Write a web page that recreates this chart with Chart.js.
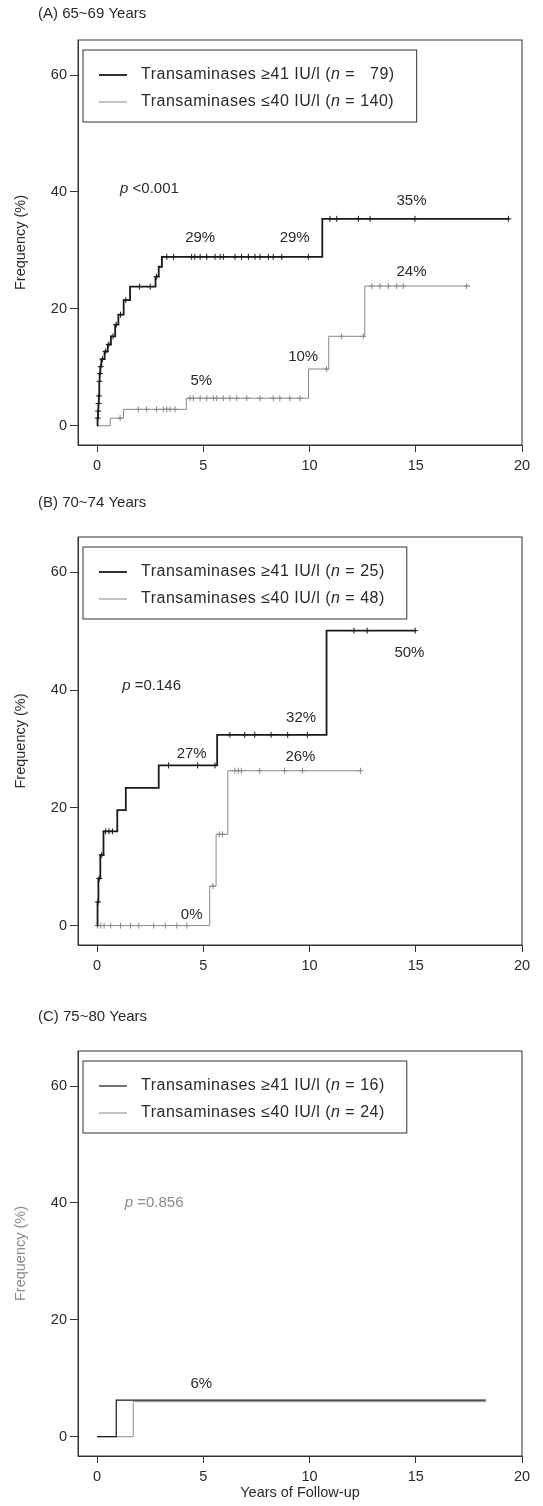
<!DOCTYPE html>
<html>
<head>
<meta charset="utf-8">
<script src="https://cdn.jsdelivr.net/npm/chart.js@4.4.0/dist/chart.umd.min.js"></script>
<style>
  body { margin: 0; background: #fff; }
  .panel { position: absolute; left: 0; width: 543px; }
</style>
</head>
<body>
<div class="panel" style="top:0;height:485px"><canvas id="chartA"></canvas></div>
<div class="panel" style="top:485px;height:512px"><canvas id="chartB"></canvas></div>
<div class="panel" style="top:997px;height:509px"><canvas id="chartC"></canvas></div>
<script>
const xTicks = [0, 5, 10, 15, 20];
const yTicks = [0, 20, 40, 60];

// (A) 65~69 years
const aHighTimes = [0, 0.02, 0.04, 0.06, 0.08, 0.1, 0.12, 0.15, 0.2, 0.35, 0.5, 0.65, 0.85, 1.0, 1.25, 1.55, 2.75, 2.9, 3.05, 10.6, 19.4];
const aHighValues = [0, 1.3, 2.5, 3.8, 5.1, 7.6, 8.9, 10.1, 11.4, 12.7, 13.9, 15.3, 17.3, 19.0, 21.5, 23.8, 25.5, 27.2, 28.9, 35.4, 35.4];
const aHighCensors = [0.03, 0.05, 0.07, 0.09, 0.11, 0.13, 0.17, 0.25, 0.4, 0.55, 0.75, 0.9, 1.1, 1.35, 2.0, 2.5, 2.8, 3.28, 3.6, 4.45, 4.6, 4.85, 5.16, 5.55, 5.79, 5.94, 6.49, 6.8, 7.12, 7.43, 7.67, 8.06, 8.29, 8.69, 9.94, 10.96, 11.28, 12.3, 12.85, 14.96, 19.36];
const aLowTimes = [0, 0.62, 1.24, 4.2, 9.95, 10.9, 12.6, 17.55];
const aLowValues = [0, 1.3, 2.8, 4.7, 9.7, 15.3, 23.9, 23.9];
const aLowCensors = [1.08, 1.94, 2.33, 2.8, 3.12, 3.28, 3.43, 3.67, 4.37, 4.53, 4.85, 5.16, 5.47, 5.63, 5.94, 6.25, 6.57, 7.04, 7.67, 8.29, 8.6, 9.07, 9.55, 10.8, 11.51, 12.53, 12.93, 13.32, 13.71, 14.1, 14.41, 17.39];
const aNotes = ["29%", "29%", "35%", "24%", "10%", "5%"];
const aNoteX = [4.85, 9.3, 14.8, 14.8, 9.7, 4.9];
const aNoteY = [32.1, 32.1, 38.5, 26.4, 11.8, 7.6];

// (B) 70~74 years
const bHighTimes = [0, 0.02, 0.06, 0.15, 0.3, 0.95, 1.35, 2.9, 5.65, 10.8, 15.0];
const bHighValues = [0, 4, 8, 12, 16, 19.6, 23.4, 27.2, 32.4, 50.1, 50.1];
const bHighCensors = [0.04, 0.1, 0.22, 0.4, 0.56, 0.72, 3.36, 4.73, 5.55, 6.25, 6.95, 7.42, 8.19, 8.97, 9.9, 12.09, 12.71, 14.97];
const bLowTimes = [0, 5.3, 5.6, 6.15, 12.4];
const bLowValues = [0, 6.7, 15.5, 26.3, 26.3];
const bLowCensors = [0.01, 0.17, 0.33, 0.64, 1.1, 1.57, 1.96, 2.66, 3.21, 3.75, 4.22, 5.45, 5.75, 5.9, 6.48, 6.64, 6.79, 7.65, 8.82, 9.67, 12.4];
const bNotes = ["27%", "32%", "26%", "0%", "50%"];
const bNoteX = [4.45, 9.6, 9.57, 4.45, 14.7];
const bNoteY = [29.2, 35.2, 28.7, 1.8, 46.4];

// (C) 75~80 years
const cHighTimes = [0, 0.9, 18.3];
const cHighValues = [0, 6.25, 6.25];
const cLowTimes = [0, 1.7, 18.3];
const cLowValues = [0, 6.0, 6.0];
const cNotes = ["6%"];
const cNoteX = [4.9];
const cNoteY = [9.0];

const fontFamily = "'Liberation Sans', Arial, sans-serif";

function stepPoints(times, values) {
  return times.map((t, i) => ({ x: t, y: values[i] }));
}

function censorPoints(censors, times, values) {
  return censors.map((t) => {
    let v = values[0];
    times.forEach((time, i) => {
      if (time <= t) v = values[i];
    });
    return { x: t, y: v };
  });
}

function frameAndText(panel) {
  return {
    id: "frameAndText",
    beforeDatasetsDraw(chart) {
      const { ctx, chartArea } = chart;
      ctx.save();
      ctx.strokeStyle = "#333";
      ctx.lineWidth = 1;
      ctx.strokeRect(chartArea.left, chartArea.top, chartArea.right - chartArea.left, chartArea.bottom - chartArea.top);
      ctx.restore();
    },
    afterDraw(chart) {
      const { ctx, chartArea, scales } = chart;
      ctx.save();
      ctx.fillStyle = "#2a2a2a";
      ctx.font = "15px " + fontFamily;
      ctx.textBaseline = "middle";
      ctx.textAlign = "left";
      ctx.fillText(panel.title, 38, chartArea.top - panel.titleGap);

      // percentage notes
      ctx.textAlign = "center";
      panel.notes.forEach((text, i) => {
        ctx.fillText(text, scales.x.getPixelForValue(panel.noteX[i]), scales.y.getPixelForValue(panel.noteY[i]));
      });

      // p value
      ctx.fillStyle = panel.pColor;
      ctx.textAlign = "left";
      let px = scales.x.getPixelForValue(panel.pX);
      const py = scales.y.getPixelForValue(panel.pY);
      ctx.font = "italic 15px " + fontFamily;
      ctx.fillText("p", px, py);
      px += ctx.measureText("p ").width;
      ctx.font = "15px " + fontFamily;
      ctx.fillText(panel.pText, px, py);

      // legend box
      const left = chartArea.left + 5;
      const top = chartArea.top + 10;
      const rows = [
        { color: "#1a1a1a", width: panel.highWidth, pre: "Transaminases \u226541 IU/l (", post: panel.nHigh },
        { color: "#8a8a8a", width: 1, pre: "Transaminases \u226440 IU/l (", post: panel.nLow },
      ];
      ctx.letterSpacing = "0.5px";
      let maxW = 0;
      rows.forEach((row, i) => {
        const y = top + 25 + i * 27;
        ctx.strokeStyle = row.color;
        ctx.lineWidth = row.width;
        ctx.beginPath();
        ctx.moveTo(left + 16, y);
        ctx.lineTo(left + 44, y);
        ctx.stroke();
        let x = left + 58;
        ctx.fillStyle = "#2a2a2a";
        ctx.font = "16px " + fontFamily;
        ctx.fillText(row.pre, x, y);
        x += ctx.measureText(row.pre).width;
        ctx.font = "italic 16px " + fontFamily;
        ctx.fillText("n", x, y);
        x += ctx.measureText("n").width;
        ctx.font = "16px " + fontFamily;
        ctx.fillText(row.post, x, y);
        x += ctx.measureText(row.post).width;
        maxW = Math.max(maxW, x - left);
      });
      ctx.strokeStyle = "#333";
      ctx.lineWidth = 1;
      ctx.strokeRect(left, top, maxW + 22, 72);
      ctx.restore();
    },
  };
}

function makePanel(canvasId, panel) {
  const datasets = [
    {
      data: stepPoints(panel.highTimes, panel.highValues),
      borderColor: "#1a1a1a",
      borderWidth: panel.highWidth,
      stepped: true,
      pointRadius: 0,
    },
    {
      data: stepPoints(panel.lowTimes, panel.lowValues),
      borderColor: "#8a8a8a",
      borderWidth: 1,
      stepped: true,
      pointRadius: 0,
    },
  ];
  if (panel.highCensors) {
    datasets.push({
      data: censorPoints(panel.highCensors, panel.highTimes, panel.highValues),
      showLine: false,
      pointStyle: "cross",
      pointRadius: 3,
      borderColor: "#1a1a1a",
      borderWidth: 1,
    });
    datasets.push({
      data: censorPoints(panel.lowCensors, panel.lowTimes, panel.lowValues),
      showLine: false,
      pointStyle: "cross",
      pointRadius: 3,
      borderColor: "#8a8a8a",
      borderWidth: 1,
    });
  }

  new Chart(document.getElementById(canvasId), {
    type: "line",
    data: { datasets: datasets },
    options: {
      responsive: true,
      maintainAspectRatio: false,
      animation: false,
      layout: { padding: { top: panel.padTop, right: 21, bottom: 0, left: 0 } },
      plugins: { legend: { display: false }, tooltip: { enabled: false } },
      scales: {
        x: {
          type: "linear",
          min: -0.9,
          max: 20,
          afterBuildTicks: (axis) => {
            axis.ticks = xTicks.map((v) => ({ value: v }));
          },
          afterFit: (axis) => {
            axis.height = panel.xHeight;
          },
          ticks: { color: "#2a2a2a", font: { family: fontFamily, size: 14.5 }, padding: 5, maxRotation: 0 },
          grid: { drawOnChartArea: false, drawTicks: true, tickLength: 7, color: "#333" },
          border: { display: true, color: "#333" },
          title: {
            display: panel.xTitle,
            text: "Years of Follow-up",
            color: "#2a2a2a",
            font: { family: fontFamily, size: 14.5 },
            padding: { top: 1 },
          },
        },
        y: {
          type: "linear",
          min: -3.3,
          max: 66,
          afterBuildTicks: (axis) => {
            axis.ticks = yTicks.map((v) => ({ value: v }));
          },
          afterFit: (axis) => {
            axis.width = 78;
          },
          ticks: { color: "#2a2a2a", font: { family: fontFamily, size: 14.5 }, padding: 3 },
          grid: { drawOnChartArea: false, drawTicks: true, tickLength: 8, color: "#333" },
          border: { display: true, color: "#333" },
          title: {
            display: true,
            text: "Frequency (%)",
            color: panel.pColor,
            font: { family: fontFamily, size: 14.5 },
            padding: { top: 12, bottom: 0 },
          },
        },
      },
    },
    plugins: [frameAndText(panel)],
  });
}

makePanel("chartA", {
  title: "(A) 65~69 Years", titleGap: 26,
  highTimes: aHighTimes, highValues: aHighValues, highCensors: aHighCensors,
  lowTimes: aLowTimes, lowValues: aLowValues, lowCensors: aLowCensors,
  notes: aNotes, noteX: aNoteX, noteY: aNoteY,
  pText: "<0.001", pX: 1.08, pY: 40.6, pColor: "#2a2a2a",
  nHigh: " =   79)", nLow: " = 140)",
  highWidth: 1.8, padTop: 40, xHeight: 40, xTitle: false,
});

makePanel("chartB", {
  title: "(B) 70~74 Years", titleGap: 34,
  highTimes: bHighTimes, highValues: bHighValues, highCensors: bHighCensors,
  lowTimes: bLowTimes, lowValues: bLowValues, lowCensors: bLowCensors,
  notes: bNotes, noteX: bNoteX, noteY: bNoteY,
  pText: "=0.146", pX: 1.18, pY: 40.7, pColor: "#2a2a2a",
  nHigh: " = 25)", nLow: " = 48)",
  highWidth: 1.8, padTop: 52, xHeight: 52, xTitle: false,
});

makePanel("chartC", {
  title: "(C) 75~80 Years", titleGap: 34,
  highTimes: cHighTimes, highValues: cHighValues, highCensors: null,
  lowTimes: cLowTimes, lowValues: cLowValues, lowCensors: null,
  notes: cNotes, noteX: cNoteX, noteY: cNoteY,
  pText: "=0.856", pX: 1.3, pY: 40, pColor: "#8a8a8a",
  nHigh: " = 16)", nLow: " = 24)",
  highWidth: 1.2, padTop: 54, xHeight: 50, xTitle: true,
});
</script>
</body>
</html>
